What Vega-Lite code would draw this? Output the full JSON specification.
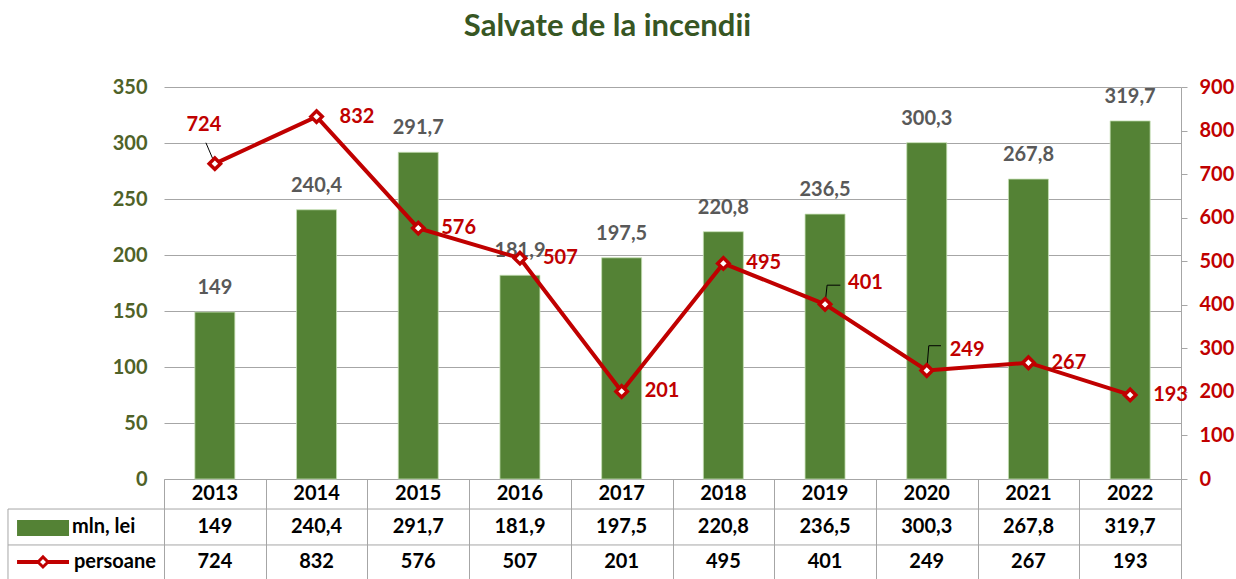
{
  "$schema": "https://vega.github.io/schema/vega-lite/v6.json",
  "width": 1017,
  "height": 392,
  "autosize": {"type": "none"},
  "padding": {"left": 164, "top": 87, "right": 55, "bottom": 100},
  "config": {
    "locale": {"number": {"decimal": ",", "thousands": " ", "grouping": [3], "currency": ["", ""]}},
    "view": {"stroke": null},
    "font": "Lato"
  },
  "title": {"text": "Salvate de la incendii", "font": "Lato", "fontSize": 31, "fontWeight": "bold", "color": "#375623", "frame": "group", "anchor": "middle", "dx": -65, "offset": 34},
  "data": {"values": [
    {"year": 2013, "mln": 149, "pers": 724},
    {"year": 2014, "mln": 240.4, "pers": 832},
    {"year": 2015, "mln": 291.7, "pers": 576},
    {"year": 2016, "mln": 181.9, "pers": 507},
    {"year": 2017, "mln": 197.5, "pers": 201},
    {"year": 2018, "mln": 220.8, "pers": 495},
    {"year": 2019, "mln": 236.5, "pers": 401},
    {"year": 2020, "mln": 300.3, "pers": 249},
    {"year": 2021, "mln": 267.8, "pers": 267},
    {"year": 2022, "mln": 319.7, "pers": 193}
  ]},
  "layer": [
    {
      "layer": [
        {
          "mark": {"type": "bar", "orient": "vertical", "size": 40, "color": "#548235", "stroke": "#C5E0B4", "strokeWidth": 0.8},
          "encoding": {
            "x": {"field": "year", "type": "quantitative", "scale": {"domain": [2012.5, 2022.5], "nice": false, "zero": false, "padding": 0},
                  "axis": {"values": [2012.5, 2013.5, 2014.5, 2015.5, 2016.5, 2017.5, 2018.5, 2019.5, 2020.5, 2021.5, 2022.5], "labels": false, "tickSize": 100, "tickColor": "#A6A6A6", "domainColor": "#A6A6A6", "grid": false, "title": null}},
            "y": {"field": "mln", "type": "quantitative", "scale": {"domain": [0, 350], "nice": false, "zero": true},
                  "axis": {"orient": "left", "values": [0, 50, 100, 150, 200, 250, 300, 350], "domain": false, "ticks": false, "labelPadding": 17, "labelColor": "#4F6228", "labelFont": "Lato", "labelFontSize": 20, "labelFontWeight": "bold", "grid": true, "gridColor": "#A6A6A6", "title": null}}
          }
        },
        {
          "mark": {"type": "text", "dy": -24, "baseline": "middle", "align": "center", "color": "#595959", "font": "Lato", "fontSize": 20, "fontWeight": "bold"},
          "encoding": {
            "x": {"field": "year", "type": "quantitative"},
            "y": {"field": "mln", "type": "quantitative"},
            "text": {"field": "mln", "type": "quantitative", "format": ".4~r"}
          }
        },
        {
          "mark": {"type": "text", "baseline": "middle", "align": "center", "color": "#000000", "font": "Lato", "fontSize": 20, "fontWeight": "bold"},
          "encoding": {
            "x": {"field": "year", "type": "quantitative"},
            "y": {"datum": -13.4, "type": "quantitative"},
            "text": {"field": "year", "type": "nominal"}
          }
        },
        {
          "mark": {"type": "text", "baseline": "middle", "align": "center", "color": "#000000", "font": "Lato", "fontSize": 20, "fontWeight": "bold"},
          "encoding": {
            "x": {"field": "year", "type": "quantitative"},
            "y": {"datum": -42.9, "type": "quantitative"},
            "text": {"field": "mln", "type": "quantitative", "format": ".4~r"}
          }
        },
        {
          "mark": {"type": "text", "baseline": "middle", "align": "center", "color": "#000000", "font": "Lato", "fontSize": 20, "fontWeight": "bold"},
          "encoding": {
            "x": {"field": "year", "type": "quantitative"},
            "y": {"datum": -74.1, "type": "quantitative"},
            "text": {"field": "pers", "type": "quantitative", "format": "d"}
          }
        },
        {
          "data": {"values": [{}]},
          "mark": {"type": "rule", "color": "#A6A6A6", "strokeWidth": 1},
          "encoding": {"x": {"datum": 2010.966, "type": "quantitative"}, "x2": {"datum": 2022.5}, "y": {"datum": -26.8, "type": "quantitative"}}
        },
        {
          "data": {"values": [{}]},
          "mark": {"type": "rule", "color": "#A6A6A6", "strokeWidth": 1},
          "encoding": {"x": {"datum": 2010.966, "type": "quantitative"}, "x2": {"datum": 2022.5}, "y": {"datum": -58.9, "type": "quantitative"}}
        },
        {
          "data": {"values": [{}]},
          "mark": {"type": "rule", "color": "#A6A6A6", "strokeWidth": 1},
          "encoding": {"x": {"datum": 2010.966, "type": "quantitative"}, "y": {"datum": -26.8, "type": "quantitative"}, "y2": {"datum": -89.3}}
        },
        {
          "data": {"values": [{}]},
          "mark": {"type": "rect", "color": "#548235"},
          "encoding": {"x": {"datum": 2011.055, "type": "quantitative"}, "x2": {"datum": 2011.566}, "y": {"datum": -36.6, "type": "quantitative"}, "y2": {"datum": -50.9}}
        },
        {
          "data": {"values": [{}]},
          "mark": {"type": "rule", "color": "#C00000", "strokeWidth": 4},
          "encoding": {"x": {"datum": 2011.055, "type": "quantitative"}, "x2": {"datum": 2011.566}, "y": {"datum": -74.1, "type": "quantitative"}}
        },
        {
          "data": {"values": [{}]},
          "mark": {"type": "point", "shape": "diamond", "filled": true, "fill": "#FFFFFF", "stroke": "#C00000", "strokeWidth": 3, "size": 100, "opacity": 1},
          "encoding": {"x": {"datum": 2011.31, "type": "quantitative"}, "y": {"datum": -74.1, "type": "quantitative"}}
        },
        {
          "data": {"values": [{"label": "mln, lei"}]},
          "mark": {"type": "text", "align": "left", "baseline": "middle", "color": "#000000", "font": "Lato", "fontSize": 20, "fontWeight": "bold"},
          "encoding": {"x": {"datum": 2011.595, "type": "quantitative"}, "y": {"datum": -42.9, "type": "quantitative"}, "text": {"field": "label"}}
        },
        {
          "data": {"values": [{"label": "persoane"}]},
          "mark": {"type": "text", "align": "left", "baseline": "middle", "color": "#000000", "font": "Lato", "fontSize": 20, "fontWeight": "bold"},
          "encoding": {"x": {"datum": 2011.615, "type": "quantitative"}, "y": {"datum": -74.1, "type": "quantitative"}, "text": {"field": "label"}}
        }
      ]
    },
    {
      "layer": [
        {
          "mark": {"type": "line", "color": "#C00000", "strokeWidth": 4},
          "encoding": {
            "x": {"field": "year", "type": "quantitative"},
            "y": {"field": "pers", "type": "quantitative", "scale": {"domain": [0, 900], "nice": false, "zero": true},
                  "axis": {"orient": "right", "values": [0, 100, 200, 300, 400, 500, 600, 700, 800, 900], "domainColor": "#A6A6A6", "tickColor": "#A6A6A6", "tickSize": 6, "labelPadding": 12, "labelColor": "#C00000", "labelFont": "Lato", "labelFontSize": 20, "labelFontWeight": "bold", "grid": false, "title": null}}
          }
        },
        {
          "data": {"values": [{}]},
          "mark": {"type": "rule", "color": "#000000", "strokeWidth": 1},
          "encoding": {"x": {"datum": 2013.0, "type": "quantitative"}, "x2": {"datum": 2012.912}, "y": {"datum": 724, "type": "quantitative"}, "y2": {"datum": 772}}
        },
        {
          "data": {"values": [{}]},
          "mark": {"type": "rule", "color": "#000000", "strokeWidth": 1},
          "encoding": {"x": {"datum": 2019.0, "type": "quantitative"}, "x2": {"datum": 2019.02}, "y": {"datum": 401, "type": "quantitative"}, "y2": {"datum": 445}}
        },
        {
          "data": {"values": [{}]},
          "mark": {"type": "rule", "color": "#000000", "strokeWidth": 1},
          "encoding": {"x": {"datum": 2019.02, "type": "quantitative"}, "x2": {"datum": 2019.15}, "y": {"datum": 445, "type": "quantitative"}}
        },
        {
          "data": {"values": [{}]},
          "mark": {"type": "rule", "color": "#000000", "strokeWidth": 1},
          "encoding": {"x": {"datum": 2020.0, "type": "quantitative"}, "x2": {"datum": 2020.02}, "y": {"datum": 249, "type": "quantitative"}, "y2": {"datum": 306}}
        },
        {
          "data": {"values": [{}]},
          "mark": {"type": "rule", "color": "#000000", "strokeWidth": 1},
          "encoding": {"x": {"datum": 2020.02, "type": "quantitative"}, "x2": {"datum": 2020.14}, "y": {"datum": 306, "type": "quantitative"}}
        },
        {
          "mark": {"type": "point", "shape": "diamond", "filled": true, "fill": "#FFFFFF", "stroke": "#C00000", "strokeWidth": 3.5, "size": 130, "opacity": 1},
          "encoding": {
            "x": {"field": "year", "type": "quantitative"},
            "y": {"field": "pers", "type": "quantitative"}
          }
        },
        {
          "transform": [{"filter": "datum.year != 2013 && datum.year != 2019 && datum.year != 2020"}],
          "mark": {"type": "text", "align": "left", "baseline": "middle", "dx": 23, "color": "#C00000", "font": "Lato", "fontSize": 20, "fontWeight": "bold"},
          "encoding": {
            "x": {"field": "year", "type": "quantitative"},
            "y": {"field": "pers", "type": "quantitative"},
            "text": {"field": "pers", "type": "quantitative", "format": "d"}
          }
        },
        {
          "transform": [{"filter": "datum.year == 2019 || datum.year == 2020"}],
          "mark": {"type": "text", "align": "left", "baseline": "middle", "dx": 23, "dy": -21, "color": "#C00000", "font": "Lato", "fontSize": 20, "fontWeight": "bold"},
          "encoding": {
            "x": {"field": "year", "type": "quantitative"},
            "y": {"field": "pers", "type": "quantitative"},
            "text": {"field": "pers", "type": "quantitative", "format": "d"}
          }
        },
        {
          "transform": [{"filter": "datum.year == 2013"}],
          "mark": {"type": "text", "align": "center", "baseline": "middle", "dx": -11, "dy": -39, "color": "#C00000", "font": "Lato", "fontSize": 20, "fontWeight": "bold"},
          "encoding": {
            "x": {"field": "year", "type": "quantitative"},
            "y": {"field": "pers", "type": "quantitative"},
            "text": {"field": "pers", "type": "quantitative", "format": "d"}
          }
        }
      ]
    }
  ],
  "resolve": {"scale": {"y": "independent"}}
}
